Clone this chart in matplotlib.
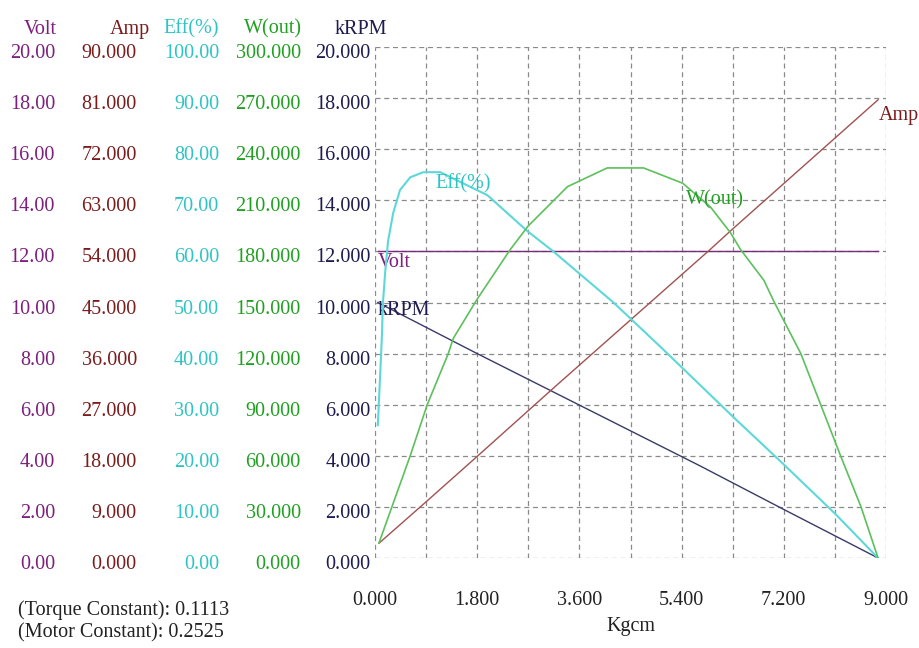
import matplotlib
matplotlib.use("Agg")
import matplotlib.pyplot as plt
from matplotlib.ticker import FormatStrFormatter, MultipleLocator
from matplotlib.transforms import ScaledTranslation

# ---- data (x = torque, Kgcm) -----------------------------------------------
volt_t = [0.05, 8.86]
volt = [12.0, 12.0]

amp_t = [0.07, 0.9, 1.8, 3.14, 5.91, 6.26, 8.86]
amp = [2.6, 9.9, 17.9, 29.9, 54.4, 57.6, 80.7]

eff_t = [0.05, 0.12, 0.14, 0.18, 0.23, 0.32, 0.44, 0.62, 0.85, 1.15,
         1.98, 2.68, 3.14, 4.2, 5.03, 5.73, 6.3, 7.2, 8.11, 8.86]
eff = [26.0, 43.0, 50.0, 56.0, 62.0, 67.5, 72.0, 74.5, 75.5, 75.5,
       71.0, 64.0, 60.0, 50.0, 41.3, 33.8, 27.7, 18.3, 8.6, 0.0]

wout_t = [0.07, 0.62, 0.92, 1.29, 1.38, 1.8, 2.38, 2.7, 3.39, 4.09, 4.73,
          5.42, 5.91, 6.26, 6.44, 6.85, 7.02, 7.5, 7.85, 8.2, 8.56, 8.86]
wout = [8.8, 60.0, 90.0, 120.0, 129.0, 152.0, 181.0, 195.0, 218.0, 229.0, 229.0,
        220.0, 206.0, 191.0, 181.0, 163.0, 151.0, 120.0, 90.0, 60.0, 30.0, 0.0]

krpm_t = [0.05, 1.8, 3.14, 5.73, 7.2, 8.86]
krpm = [10.0, 8.0, 6.5, 3.6, 1.9, 0.0]

x_ticks = [0.0, 1.8, 3.6, 5.4, 7.2, 9.0]
torque_const = "0.1113"
motor_const = "0.2525"

# ---- theme ------------------------------------------------------------------
FONT = "Liberation Serif"
FS = 14.5
VOLT_C, VOLT_L = "#7d1f7d", "#7a2a7a"
AMP_C, AMP_L = "#7a1c1c", "#a0524f"
EFF_C, EFF_L = "#2ec4c4", "#5dd8d8"
W_C, W_L = "#20a020", "#5cc05c"
RPM_C, RPM_L = "#1c1c50", "#3a3a6a"
GRID = "#8a8a8a"

plt.rcParams.update({"font.family": FONT, "font.size": FS})

fig = plt.figure(figsize=(9.19, 6.48), dpi=100)
ax = fig.add_axes([375 / 919, 1 - 558 / 648, 511 / 919, 511 / 648])

# main axis carries kRPM; the other quantities get their own twin scales
ax_volt = ax.twinx()
ax_amp = ax.twinx()
ax_eff = ax.twinx()
ax_w = ax.twinx()

setup = [  # axis, ylim, format, text colour, spine pos (axes frac), header, header x
    (ax, 20, "%.3f", RPM_C, 0.0, "kRPM", -0.027),
    (ax_volt, 20, "%.2f", VOLT_C, -0.618, "Volt", -0.656),
    (ax_amp, 90, "%.3f", AMP_C, -0.458, "Amp", -0.479),
    (ax_eff, 100, "%.2f", EFF_C, -0.297, "Eff(%)", -0.360),
    (ax_w, 300, "%.3f", W_C, -0.137, "W(out)", -0.200),
]
shift = ScaledTranslation(0, -4 / 100, fig.dpi_scale_trans)  # labels sit a bit low
for a, top, fmt, col, pos, head, hx in setup:
    a.set_ylim(0, top)
    a.yaxis.set_ticks_position("left")
    a.yaxis.set_label_position("left")
    a.spines["left"].set_position(("axes", pos))
    for s in a.spines.values():
        s.set_visible(False)
    a.set_yticks([top * i / 10 for i in range(11)])
    a.yaxis.set_major_formatter(FormatStrFormatter(fmt))
    a.tick_params(axis="y", length=0, pad=3, labelcolor=col, labelsize=FS)
    for tk in a.yaxis.get_major_ticks():
        tk.label1.set_transform(tk.label1.get_transform() + shift)
    a.set_ylabel(head, rotation=0, color=col, fontsize=FS, ha="center", va="center")
    a.yaxis.set_label_coords(hx, 1.035)

ax.set_xlim(0, 9)
ax.set_xticks(x_ticks)
ax.xaxis.set_minor_locator(MultipleLocator(0.9))
ax.xaxis.set_major_formatter(FormatStrFormatter("%.3f"))
ax.tick_params(axis="x", which="both", length=0, pad=24, labelcolor="#222222",
               labelsize=FS)
ax.set_xlabel("Kgcm", fontsize=FS, color="#222222", labelpad=4.5)
ax.grid(True, which="both", color=GRID, ls=(0, (4, 3)), lw=0.9)
ax.set_axisbelow(True)

ax_volt.plot(volt_t, volt, color=VOLT_L, lw=1.0)
ax_amp.plot(amp_t, amp, color=AMP_L, lw=1.0)
ax_eff.plot(eff_t, eff, color=EFF_L, lw=1.5)
ax_w.plot(wout_t, wout, color=W_L, lw=1.2)
ax.plot(krpm_t, krpm, color=RPM_L, lw=1.0)

# curve labels
ax_eff.text(1.06, 73.2, "Eff(%)", color=EFF_C, va="center", fontsize=FS)
ax_w.text(5.47, 210.0, "W(out)", color=W_C, va="center", fontsize=FS)
ax_volt.text(0.05, 11.56, "Volt", color=VOLT_C, va="center", fontsize=FS)
ax.text(0.05, 9.7, "kRPM", color=RPM_C, va="center", fontsize=FS)
ax_amp.text(8.87, 78.0, "Amp", color=AMP_C, va="center", fontsize=FS, clip_on=False)

fig.text(18 / 919, 1 - 610 / 648, f"(Torque Constant): {torque_const}",
         color="#222222", va="center", fontsize=FS)
fig.text(18 / 919, 1 - 633 / 648, f"(Motor Constant): {motor_const}",
         color="#222222", va="center", fontsize=FS)

fig.savefig("out.png", dpi=100, facecolor="white")
